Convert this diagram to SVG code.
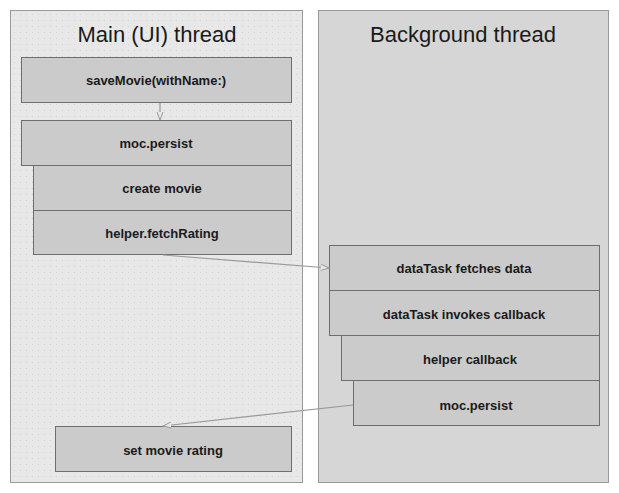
<svg xmlns="http://www.w3.org/2000/svg" width="619" height="493" viewBox="0 0 619 493">
<style>
.panel{stroke:#999;stroke-width:1}
.title{font-family:"Liberation Sans",Arial,sans-serif;font-size:22px;fill:#1a1a1a;text-anchor:middle}
.box{fill:#cbcbcb;stroke:#6e6e6e;stroke-width:1}
.lbl{font-family:"Liberation Sans",Arial,sans-serif;font-size:13px;font-weight:bold;fill:#1a1a1a;text-anchor:middle}
.conn{stroke:#999;stroke-width:1.2;fill:none;marker-end:url(#arr)}
</style>
<defs>
<pattern id="dots" width="6" height="6" patternUnits="userSpaceOnUse">
<rect width="6" height="6" fill="#e8e8e8"/>
<rect x="2" y="2" width="1" height="1" fill="#d2d2d2"/>
</pattern>
<marker id="arr" markerWidth="10" markerHeight="8" refX="9" refY="4" orient="auto" markerUnits="userSpaceOnUse">
<path d="M1,1 L9,4 L1,7" fill="#e8e8e8" stroke="#999" stroke-width="1"/>
</marker>
</defs>
<rect width="619" height="493" fill="#fff"/>
<g id="main-thread">
<rect class="panel" x="10.5" y="10.5" width="292" height="472" fill="url(#dots)"/>
<text class="title" x="157" y="42">Main (UI) thread</text>
</g>
<g id="background-thread">
<rect class="panel" x="318.5" y="10.5" width="290" height="472" fill="#d6d6d6"/>
<text class="title" x="463" y="42">Background thread</text>
</g>
<g id="saveMovie"><rect class="box" x="21.5" y="57.5" width="270" height="45"/><text class="lbl" x="156" y="85">saveMovie(withName:)</text></g>
<g id="moc-persist-main"><rect class="box" x="21.5" y="120.5" width="270" height="45"/><text class="lbl" x="156" y="148">moc.persist</text></g>
<g id="create-movie"><rect class="box" x="33.5" y="165.5" width="258" height="45"/><text class="lbl" x="162" y="193">create movie</text></g>
<g id="fetchRating"><rect class="box" x="33.5" y="210.5" width="258" height="44"/><text class="lbl" x="162" y="238">helper.fetchRating</text></g>
<g id="dataTask-fetches"><rect class="box" x="329.5" y="245.5" width="270" height="45"/><text class="lbl" x="464" y="273">dataTask fetches data</text></g>
<g id="dataTask-invokes"><rect class="box" x="329.5" y="290.5" width="270" height="45"/><text class="lbl" x="464" y="319">dataTask invokes callback</text></g>
<g id="helper-callback"><rect class="box" x="341.5" y="335.5" width="258" height="45"/><text class="lbl" x="470" y="364">helper callback</text></g>
<g id="moc-persist-bg"><rect class="box" x="353.5" y="380.5" width="246" height="45"/><text class="lbl" x="476" y="410">moc.persist</text></g>
<g id="set-rating"><rect class="box" x="55.5" y="426.5" width="236" height="45"/><text class="lbl" x="173" y="455">set movie rating</text></g>
<g id="connectors">
<line class="conn" x1="160" y1="103" x2="160" y2="120"/>
<line class="conn" x1="163" y1="255" x2="329" y2="268"/>
<line class="conn" x1="353" y1="405" x2="163" y2="426"/>
</g>
</svg>
